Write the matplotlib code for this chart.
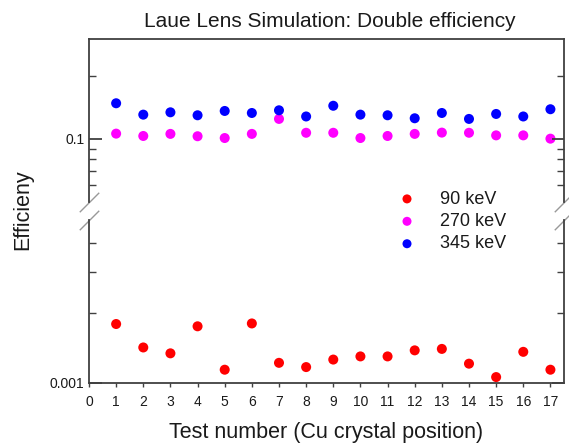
import matplotlib.pyplot as plt
import numpy as np

plt.rcParams['font.family'] = ['Liberation Sans', 'DejaVu Sans']

#===========data===========
test_no = np.arange(1, 18)
eff_90 = [0.00179, 0.00142, 0.00134, 0.00175, 0.00114, 0.00180, 0.00122, 0.00117, 0.00126,
          0.00130, 0.00130, 0.00138, 0.00140, 0.00121, 0.00106, 0.00136, 0.00114]
eff_270 = [0.106, 0.1033, 0.1057, 0.103, 0.101, 0.1057, 0.1246, 0.107, 0.107,
           0.101, 0.1033, 0.1057, 0.1072, 0.107, 0.104, 0.104, 0.1003]
eff_345 = [0.148, 0.1306, 0.134, 0.1297, 0.136, 0.133, 0.137, 0.128, 0.144,
           0.1306, 0.1297, 0.1255, 0.133, 0.1246, 0.1316, 0.128, 0.1386]
x_ticks = list(range(0, 18))

spine_c = '#404040'
text_c = '#1a1a1a'

fig = plt.figure(figsize=(5.69, 4.46), dpi=100)
ax_top = fig.add_axes([0.1564, 0.5471, 0.8348, 0.3655])
ax_bot = fig.add_axes([0.1564, 0.1413, 0.8348, 0.3655])

ms = 52
ax_bot.scatter(test_no, eff_90, s=ms, color='#ff0000', edgecolors='none', label='90 keV')
ax_top.scatter(test_no, eff_270, s=ms, color='#ff00ff', edgecolors='none', label='270 keV')
ax_top.scatter(test_no, eff_345, s=ms, color='#0000ff', edgecolors='none', label='345 keV')

ax_top.set_yscale('log')
ax_bot.set_yscale('log')
ax_top.set_ylim(0.05, 0.3)
ax_bot.set_ylim(0.001, 0.005)

for ax in (ax_top, ax_bot):
    ax.set_xlim(0, 17.5)
    for s in ax.spines.values():
        s.set_color(spine_c)
        s.set_linewidth(1.3)
    ax.tick_params(axis='y', which='both', direction='in', left=True, right=True,
                   colors=spine_c, labelcolor=text_c, labelsize=10)
    ax.tick_params(axis='y', which='major', length=9, width=1.3)
    ax.tick_params(axis='y', which='minor', length=5, width=1.0)
    ax.yaxis.set_minor_formatter(plt.NullFormatter())

ax_top.set_yticks([0.1])
ax_top.set_yticklabels(['0.1'])
ax_top.set_yticks([0.06, 0.07, 0.08, 0.09, 0.2], minor=True)
ax_bot.set_yticks([0.001])
ax_bot.set_yticklabels(['0.001'])
ax_bot.set_yticks([0.002, 0.003, 0.004], minor=True)

ax_top.spines['bottom'].set_visible(False)
ax_bot.spines['top'].set_visible(False)
ax_top.tick_params(axis='x', which='both', bottom=False, top=False, labelbottom=False)
ax_bot.set_xticks(x_ticks)
ax_bot.tick_params(axis='x', which='both', direction='out', length=3, width=1.0, pad=6,
                   colors=spine_c, labelcolor=text_c, labelsize=10, top=False)

# break marks
brk = dict(marker=[(-1, -1), (1, 1)], markersize=14, linestyle='none',
           color='#999999', mec='#999999', mew=1.0, clip_on=False)
ax_top.plot([0, 1], [0, 0], transform=ax_top.transAxes, **brk)
ax_bot.plot([0, 1], [1, 1], transform=ax_bot.transAxes, **brk)

fig.text(0.58, 0.952, 'Laue Lens Simulation: Double efficiency', ha='center', va='center',
         fontsize=15, color=text_c)
fig.text(0.573, 0.031, 'Test number (Cu crystal position)', ha='center', va='center',
         fontsize=15.5, color=text_c)
fig.text(0.040, 0.529, 'Efficieny', rotation=90, ha='center', va='center', fontsize=15.5, color=text_c)

handles = ax_bot.get_legend_handles_labels()[0] + ax_top.get_legend_handles_labels()[0]
labels = ['90 keV', '270 keV', '345 keV']
fig.legend(handles, labels, loc='upper left', bbox_to_anchor=(0.655, 0.609), frameon=False,
           fontsize=13, handletextpad=0.8, labelspacing=0.3, markerscale=0.9,
           labelcolor=text_c)

plt.savefig('out.png', dpi=100)
